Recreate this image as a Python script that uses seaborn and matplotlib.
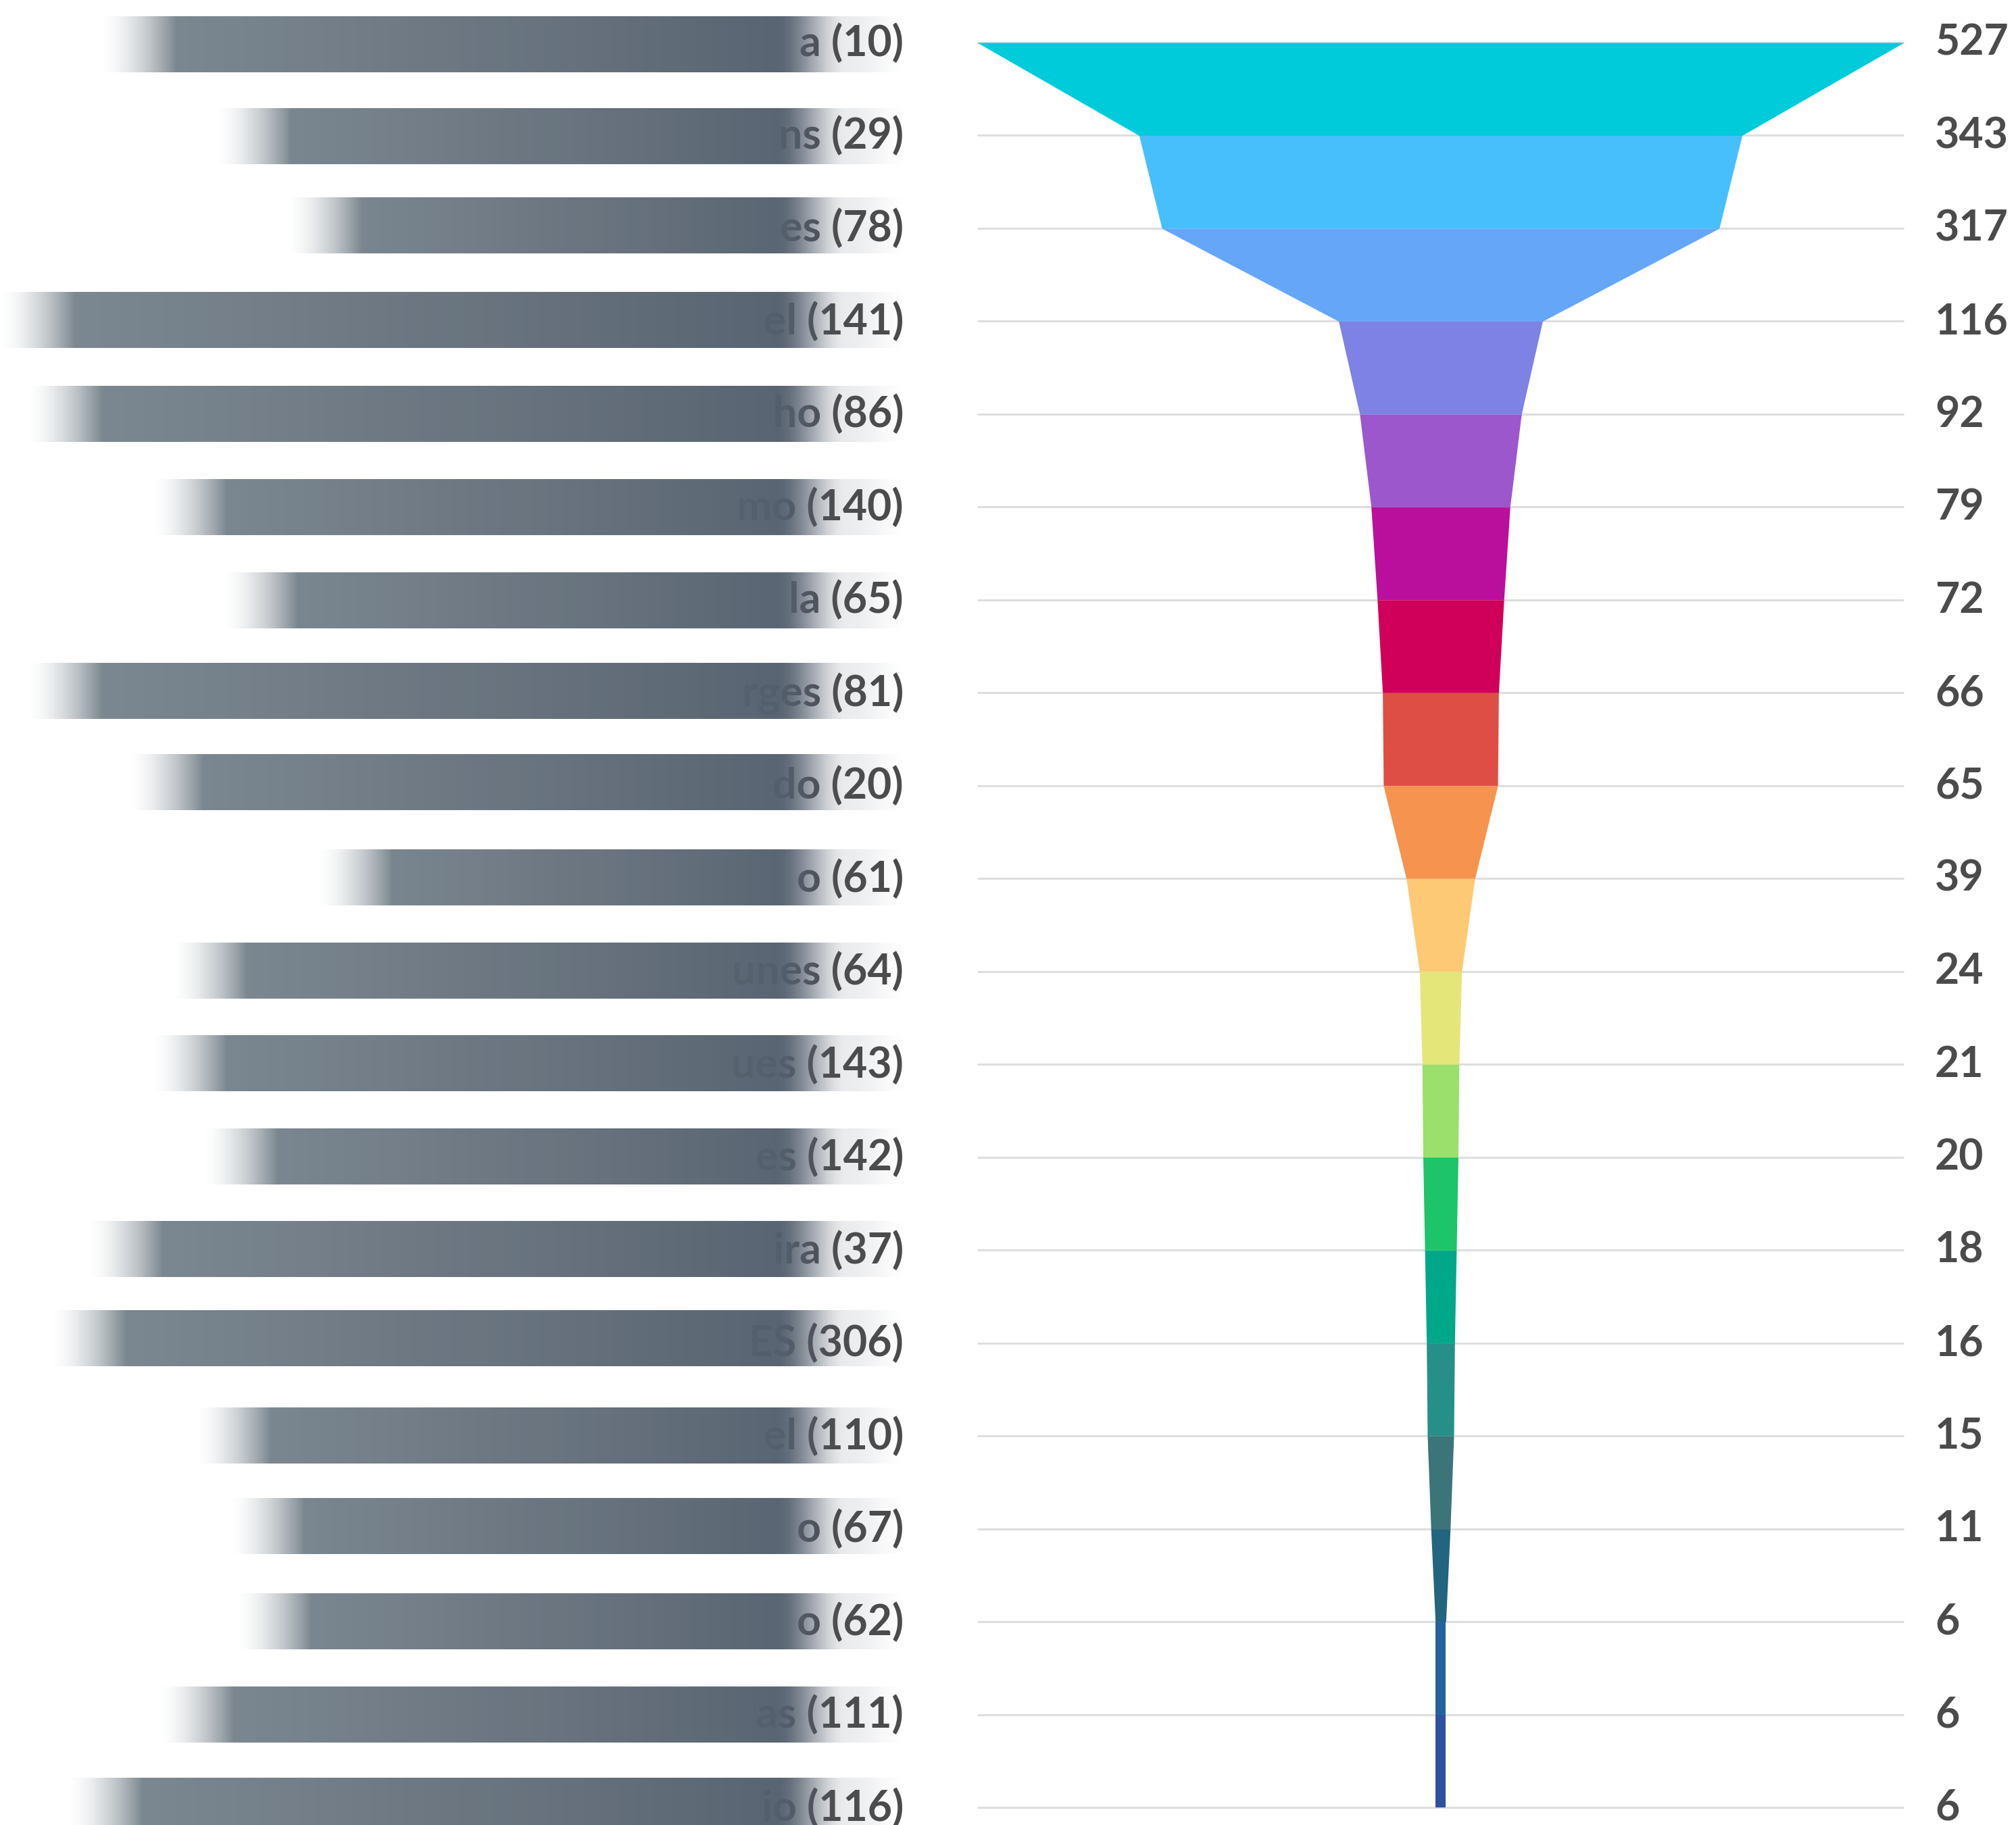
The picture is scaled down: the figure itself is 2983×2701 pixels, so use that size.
import numpy as np
import matplotlib
matplotlib.use("Agg")
import matplotlib.pyplot as plt
from matplotlib.colors import to_rgb
import seaborn as sns

# ---- data -------------------------------------------------------------
stage_values = [527, 343, 317, 116, 92, 79, 72, 66, 65, 39,
                24, 21, 20, 18, 16, 15, 11, 6, 6, 6]
left_labels = ["a (10)", "ns (29)", "es (78)", "el (141)", "ho (86)",
               "mo (140)", "la (65)", "rges (81)", "do (20)", "o (61)",
               "unes (64)", "ues (143)", "es (142)", "ira (37)", "ES (306)",
               "el (110)", "o (67)", "o (62)", "as (111)", "io (116)"]
segment_colors = ["#00CBDB", "#48BFFD", "#66A6F8", "#7E82E5", "#9B57CB",
                  "#BA0F9D", "#D0005A", "#DF4E45", "#F5934F", "#FDC974",
                  "#E4E67A", "#9BDF6C", "#1DC46A", "#00A88A", "#268F87",
                  "#3B7479", "#23647E", "#25619D", "#2F4FA1"]

# ---- layout (pixels) ---------------------------------------------------
W, H = 2983, 2701
Y_TOP, Y_BOT = 63, 2675
FUNNEL_X0, FUNNEL_X1 = 1446, 2817
LABEL_RIGHT = 1337
TEXT_LIFT = 0.035          # rows; raises the text a touch above each line
# left edge where each masking band starts to appear
band_starts = [150, 320, 425, 0, 40, 225, 330, 40, 190, 470,
               255, 225, 300, 130, 75, 290, 340, 350, 235, 100]
band_shift = [0.02, 0.01, -0.03, -0.01, 0.0, 0.0, 0.01, -0.02, -0.04, -0.01,
              -0.01, -0.01, -0.01, -0.01, -0.05, 0.0, -0.03, 0.0, 0.0, -0.02]

sns.set_theme(style="white")
plt.rcParams["font.family"] = ["Lato", "DejaVu Sans"]

TEXT_COLOR = "#4b4b4b"
GRID_COLOR = "#dedede"

fig = plt.figure(figsize=(W / 100, H / 100), dpi=100)
fig.patch.set_facecolor("white")


def frac(x0, y0, x1, y1):
    return [x0 / W, 1 - y1 / H, (x1 - x0) / W, (y1 - y0) / H]


n = len(stage_values)
rows = np.arange(n)
vmax = max(stage_values)

# ---- funnel ------------------------------------------------------------
ax = fig.add_axes(frac(FUNNEL_X0, Y_TOP, FUNNEL_X1, Y_BOT))
ax.set_xlim(-vmax, vmax)
ax.set_ylim(n - 1, 0)
ax.axis("off")

ax.hlines(rows, -vmax, vmax, color=GRID_COLOR, lw=2.2, zorder=0, clip_on=False)

for i in range(n - 1):
    a, b = stage_values[i], stage_values[i + 1]
    ax.fill_betweenx([i, i + 1], [-a, -b], [a, b],
                     color=segment_colors[i], lw=0, zorder=2)

for i, v in enumerate(stage_values):
    ax.text(vmax * 1.067, i - TEXT_LIFT, f"{v}", ha="left",
            va="center_baseline", fontsize=45, fontweight="bold",
            color=TEXT_COLOR, clip_on=False)

# ---- labels with masking bands ----------------------------------------
axl = fig.add_axes(frac(0, Y_TOP, FUNNEL_X0, Y_BOT))
axl.axis("off")

for i, lab in enumerate(left_labels):
    axl.text(LABEL_RIGHT, i - TEXT_LIFT, lab, ha="right",
             va="center_baseline", fontsize=45, fontweight="bold",
             color=TEXT_COLOR, zorder=1, clip_on=False)

c_left = np.array(to_rgb("#7c8890"))
c_right = np.array(to_rgb("#525d6c"))
BAND_END = 1350
half_h = 0.30


def smooth(t):
    t = np.clip(t, 0, 1)
    return t * t * (3 - 2 * t)


for i, x0 in enumerate(band_starts):
    xs = np.linspace(x0, BAND_END, 700)
    t = np.clip((xs - x0) / (1230 - x0), 0, 1)
    rgb = c_left[None, :] * (1 - t)[:, None] + c_right[None, :] * t[:, None]
    a_left = np.clip((xs - x0) / 110, 0, 1) ** 1.6
    a_right = np.where(xs < 1150, 1.0,
                       np.where(xs < 1255,
                                1 - 0.88 * smooth((xs - 1150) / 105),
                                0.12 * (1 - smooth((xs - 1255) / 90))))
    alpha = 0.97 * a_left * a_right
    img = np.concatenate([rgb, alpha[:, None]], axis=1)[None, :, :]
    yc = i + band_shift[i]
    axl.imshow(img, extent=(x0, BAND_END, yc + half_h, yc - half_h),
               aspect="auto", interpolation="bilinear", zorder=3,
               clip_on=False)

axl.set_xlim(0, FUNNEL_X0)
axl.set_ylim(n - 1, 0)

fig.savefig("out.png", dpi=100, facecolor="white")
